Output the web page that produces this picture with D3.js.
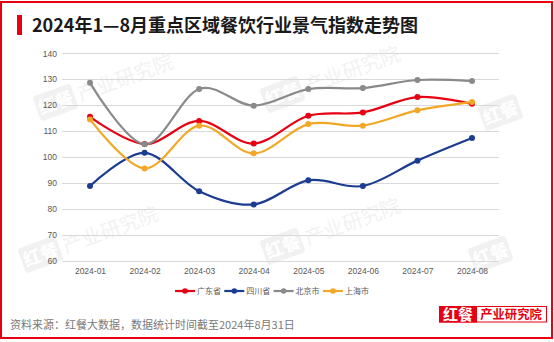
<!DOCTYPE html>
<html><head><meta charset="utf-8">
<script src="https://cdn.jsdelivr.net/npm/d3@7"></script>
<style>
html,body{margin:0;padding:0;background:#fff;}
svg{display:block;}
</style></head>
<body>
<script>
const months = ['2024-01','2024-02','2024-03','2024-04','2024-05','2024-06','2024-07','2024-08'];
const seriesNames = ['广东省','四川省','北京市','上海市'];
const guangdong = [115.5, 105.0, 113.9, 105.2, 115.9, 117.2, 123.1, 120.5];
const sichuan   = [88.8, 101.6, 86.8, 81.7, 91.0, 88.8, 98.6, 107.3];
const beijing   = [128.6, 104.9, 126.2, 119.8, 126.2, 126.6, 129.7, 129.3];
const shanghai  = [114.5, 95.6, 112.1, 101.4, 112.7, 112.1, 118.0, 121.2];
const yTicks = [60, 70, 80, 90, 100, 110, 120, 130, 140];
const colors = ['#e60012', '#1c3c92', '#8a8a8a', '#f2a827'];
const titleText = '2024年1—8月重点区域餐饮行业景气指数走势图';
const sourceText = '资料来源：红餐大数据，数据统计时间截至2024年8月31日';

const W = 554, H = 342;
const svg = d3.select('body').append('svg').attr('width', W).attr('height', H);
const cjk = '"Noto Sans CJK SC", "Noto Sans", sans-serif';
const lat = '"Liberation Sans", Arial, sans-serif';

svg.append('rect').attr('width', W).attr('height', H).attr('fill', '#fff');

// watermarks
const wm = [[95,88,true],[322,80,true],[540,98,false],[80,240,true],[322,232,true],[530,240,false]];
wm.forEach(([cx, cy, full]) => {
  const g = svg.append('g').attr('transform', `translate(${cx},${cy}) rotate(-20)`).attr('opacity', 0.05);
  g.append('rect').attr('x', -62).attr('y', -13).attr('width', 40).attr('height', 26).attr('rx', 3).attr('fill', '#000');
  g.append('text').attr('x', -42).attr('y', 7).attr('text-anchor', 'middle').attr('font-family', cjk).attr('font-weight', 'bold').attr('font-size', 18).attr('fill', '#fff').text('红餐');
  if (full) g.append('text').attr('x', -18).attr('y', 8).attr('font-family', cjk).attr('font-size', 20).attr('fill', '#000').text('产业研究院');
});

// frame
svg.append('rect').attr('x', 1).attr('y', 2).attr('width', 551).attr('height', 336)
  .attr('fill', 'none').attr('stroke', '#e60012').attr('stroke-width', 2);

// title
svg.append('rect').attr('x', 17).attr('y', 15).attr('width', 5).attr('height', 20).attr('fill', '#e60012');
svg.append('text').attr('x', 32).attr('y', 32).attr('font-family', cjk).attr('font-weight', 'bold')
  .attr('font-size', 18).attr('fill', '#1a1a1a').text(titleText);

// scales
const x = d3.scalePoint().domain(months).range([90, 472]);
const y = d3.scaleLinear().domain([60, 140]).range([260.7, 53.3]);
const gridX0 = 62, gridX1 = 499;

// grid
svg.append('g').selectAll('line').data(yTicks).join('line')
  .attr('x1', gridX0).attr('x2', gridX1)
  .attr('y1', d => Math.round(y(d)) + 0.5).attr('y2', d => Math.round(y(d)) + 0.5)
  .attr('stroke', '#d9d9d9').attr('stroke-width', 1);

// y axis labels
const yAxis = svg.append('g').attr('transform', `translate(${gridX0},0)`)
  .call(d3.axisLeft(y).tickValues(yTicks).tickSize(0).tickPadding(5));
yAxis.select('.domain').remove();
yAxis.selectAll('text').attr('font-family', lat).attr('font-size', 8.5).attr('fill', '#595959');

// x axis labels
const xAxis = svg.append('g').attr('transform', `translate(0,${y(60)})`)
  .call(d3.axisBottom(x).tickSize(0).tickPadding(7));
xAxis.select('.domain').remove();
xAxis.selectAll('text').attr('font-family', lat).attr('font-size', 8.5).attr('fill', '#595959');

// lines
const data = [guangdong, sichuan, beijing, shanghai];
const line = d3.line().x((d, i) => x(months[i])).y(d => y(d)).curve(d3.curveCardinal.tension(0));
data.forEach((vals, k) => {
  svg.append('path').datum(vals).attr('d', line).attr('fill', 'none')
    .attr('stroke', colors[k]).attr('stroke-width', 2.2);
});
data.forEach((vals, k) => {
  svg.append('g').selectAll('circle').data(vals).join('circle')
    .attr('cx', (d, i) => x(months[i])).attr('cy', d => y(d)).attr('r', 3)
    .attr('fill', colors[k]);
});

// legend
const legX0 = 175, legY = 291, itemW = 49.3;
seriesNames.forEach((name, k) => {
  const g = svg.append('g').attr('transform', `translate(${legX0 + k * itemW},${legY})`);
  g.append('line').attr('x1', 0).attr('x2', 20).attr('y1', 0).attr('y2', 0).attr('stroke', colors[k]).attr('stroke-width', 2.2);
  g.append('circle').attr('cx', 10).attr('cy', 0).attr('r', 2.8).attr('fill', colors[k]);
  g.append('text').attr('x', 22).attr('y', 3).attr('font-family', cjk).attr('font-size', 8)
    .attr('fill', '#595959').text(name);
});

// source
svg.append('text').attr('x', 10).attr('y', 329).attr('font-family', cjk).attr('font-size', 11)
  .attr('fill', '#7a7a7a').text(sourceText);

// logo
svg.append('rect').attr('x', 439.5).attr('y', 306.5).attr('width', 107).attr('height', 15.5)
  .attr('fill', '#fff').attr('stroke', '#e60012').attr('stroke-width', 1);
svg.append('rect').attr('x', 439).attr('y', 306).attr('width', 38).attr('height', 16.5).attr('fill', '#e60012');
svg.append('text').attr('x', 458).attr('y', 319.5).attr('text-anchor', 'middle').attr('font-family', cjk)
  .attr('font-weight', 'bold').attr('font-size', 15).attr('fill', '#fff').text('红餐');
svg.append('text').attr('x', 511).attr('y', 318.5).attr('text-anchor', 'middle').attr('font-family', cjk)
  .attr('font-weight', 'bold').attr('font-size', 12.3).attr('fill', '#e60012').text('产业研究院');
</script>
</body></html>
